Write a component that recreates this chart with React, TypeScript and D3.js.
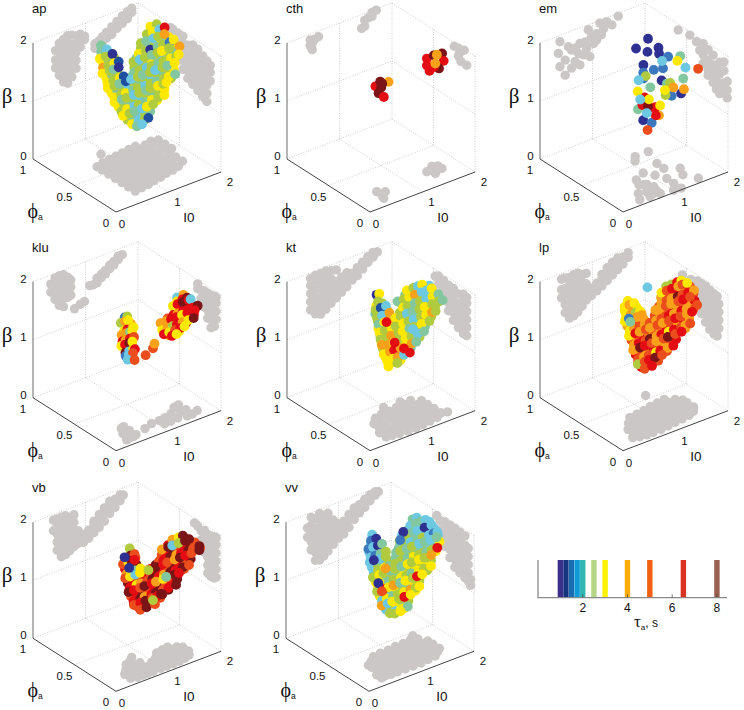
import * as d3 from 'd3';

// tau classes of the colour strip, and the colour of each class
const tauValues = [1, 1.25, 1.5, 1.75, 2, 2.5, 3, 4, 5, 6.5, 8];
const barColors = ['#3b2f8a', '#17357f', '#1a6db0', '#0f9ad8', '#31b6b4', '#b5d684', '#fff200', '#ffab0a', '#f15f12', '#dc3222', '#98604f'];
const dotColors = ['#2e3192', '#1f4f9f', '#3b78bd', '#6dc8e2', '#82c79e', '#b0cb3e', '#ffe800', '#f9a11b', '#ec4d1c', '#e30d13', '#7a1416'];
const tauTicks = [2, 4, 6, 8];
const betaTicks = [0, 1, 2];
const phiTicks = [0, 0.5, 1];
const i0Ticks = [0, 1, 2];

// shadows on the phi=1 wall: [I0, beta, beta, ...]
// shadows on the I0=2 wall: [phi, beta, beta, ...]
// shadows on the floor: [I0, phi, phi, ...]
// cloud rows: [phi, beta, I0, class, I0, class, ...], the *Back rows are drawn first

const apLeft = [[.43,1.42,1.56,1.72],[.5,1.27,1.41,1.55,1.69,1.82],[.58,1.13,1.27,1.41,1.55,1.69,1.86],[.66,1.08,1.22,1.36,1.5,1.64,1.78,1.9],[.74,1.16,1.3,1.44,1.58,1.72,1.88],[.82,1.28,1.42,1.56,1.7,1.84],[.9,1.62,1.74,1.84],[.98,1.72,1.78],[1.18,1.5,1.58],[1.25,1.5,1.6],[1.32,1.55,1.65],[1.4,1.6,1.7],[1.5,1.63,1.76],[1.6,1.7,1.82],[1.7,1.75,1.88],[1.8,1.8,1.92],[1.88,1.88,1.95]];
const apRight = [[.61,1.85,1.93],[.58,1.7,1.85,1.93],[.52,1.48,1.62,1.76,1.92],[.46,1.35,1.5,1.65,1.8,1.92],[.4,1.25,1.38,1.52,1.66,1.82],[.34,1.2,1.34,1.48,1.62,1.76,1.88],[.28,1.15,1.29,1.43,1.57,1.71,1.86],[.22,1.1,1.24,1.38,1.52,1.66,1.8],[.17,1.06,1.2,1.34,1.48,1.62,1.76],[.13,1.45,1.6,1.72]];
const apFloor = [[.62,.16,.24,.32,.4,.48,.56,.62],[.76,.17,.25,.33,.41,.49,.57,.64],[.9,.18,.26,.34,.42,.5,.58,.65,.75],[1.04,.2,.28,.36,.44,.52,.6,.66],[1.18,.21,.29,.37,.45,.53,.61,.67],[1.32,.23,.31,.39,.47,.55,.63,.68],[1.46,.24,.32,.4,.48,.56,.64,.69],[1.6,.26,.34,.42,.5,.58,.66],[1.74,.3,.38,.46,.54,.62,.68],[1.85,.5,.58,.66]];
const apBack = [
  [.655,1.85,.76,5,.88,4,1.7,5,1.82,6,1.93,5],
  [.625,1.75,.74,6,.85,4,.96,5,1.46,5,1.57,3,1.68,5,1.79,6,1.9,4,2,6],
  [.595,1.65,.71,5,.83,6,.94,5,1.33,4,1.45,5,1.56,3,1.67,5,1.78,4,1.89,5,2,6],
  [.565,1.55,.71,6,.82,4,.93,5,1.24,5,1.35,4,1.46,5,1.57,6,1.68,5,1.79,3,1.9,5,2,4],
  [.535,1.45,.7,5,.81,6,.92,4,1.03,5,1.14,4,1.25,5,1.36,3,1.47,5,1.58,4,1.69,6,1.8,5,1.91,4],
  [.505,1.35,.71,6,.82,4,.93,5,1.04,3,1.15,5,1.26,4,1.37,5,1.48,3,1.59,5,1.7,4,1.81,5,1.9,6],
  [.475,1.25,.73,5,.84,6,.95,4,1.06,5,1.17,3,1.28,5,1.39,4,1.5,5,1.61,6,1.72,4,1.8,5],
  [.445,1.15,.75,6,.86,5,.97,4,1.08,5,1.19,3,1.3,5,1.41,4,1.52,5,1.63,6],
  [.415,1.05,.78,5,.89,4,1,5,1.11,3,1.22,5,1.33,4,1.44,6],
  [.385,.95,.83,5,.94,4,1.05,3,1.16,5,1.26,4],
  [.36,.87,.92,5,1.02,3,1.1,4],
];
const apCloud = [
  [.7,1.95,.82,4,1.76,6,1.88,5],
  [.66,1.9,.76,4,.87,3,1.63,5,1.74,6,1.87,3,1.97,9],
  [.65,1.8,.72,6,.83,5,.96,0,1.5,5,1.6,4,1.74,3,1.83,5,1.95,7],
  [.6,1.7,.7,7,.8,5,.92,6,1,1,1.38,6,1.52,5,1.6,0,1.74,4,1.84,5,1.97,2],
  [.6,1.6,.69,6,.83,5,.9,4,1,0,1.28,5,1.4,3,1.5,5,1.63,4,1.74,5,1.82,6,1.96,5],
  [.54,1.5,.69,6,.8,5,.93,6,1,1,1.2,4,1.3,5,1.44,3,1.53,5,1.66,4,1.76,5,1.9,6,2,5],
  [.54,1.4,.7,6,.82,5,.92,4,1.04,1,1.14,3,1.27,5,1.36,4,1.5,5,1.6,3,1.74,5,1.83,4,1.97,6],
  [.47,1.3,.71,6,.84,5,.93,6,1.07,4,1.16,5,1.3,3,1.4,5,1.52,4,1.66,5,1.75,6,1.87,4],
  [.48,1.2,.73,6,.87,4,.96,5,1.1,3,1.2,5,1.33,4,1.42,5,1.56,6,1.66,5,1.72,6],
  [.41,1.1,.75,5,.86,6,1,3,1.08,5,1.22,4,1.33,6,1.45,5,1.57,6],
  [.42,1,.8,6,.92,5,1.02,4,1.16,3,1.25,6,1.37,5],
  [.35,.9,.86,6,.98,3,1.1,5,1.17,1],
  [.35,.83,.95,4,1.05,3],
  [.57,1.76,2,6],[.5,1.71,2,7],[.51,1.56,2,6],
];

const cthLeft = [[.44,1.9,1.8],[.48,1.72,1.82],[.52,1.88],[.6,1.9],[1.42,1.76],[1.48,1.78,1.88],[1.55,1.9],[1.62,1.9,1.97],[1.7,1.98]];
const cthRight = [[.25,1.94],[.2,1.95,1.82],[.17,1.92,1.75],[.13,1.98],[.1,1.75]];
const cthFloor = [[.42,.1],[.45,.14],[.46,.21],[.56,.17],[1.43,.22],[1.5,.16,.22],[1.59,.26,.2],[1.67,.19,.24]];
const cthCloud = [
  [.2,1.84,.42,9],[.2,1.83,.67,7],[.2,1.89,.51,10],[.2,1.84,.55,10],[.2,1.78,.53,10],[.2,1.7,.48,10],[.2,1.6,.58,9],
  [.2,1.98,1.4,9],[.2,1.99,1.53,10],[.2,1.97,1.69,10],[.2,1.83,1.72,9],[.2,1.73,1.63,10],[.2,1.86,1.4,9],[.2,1.75,1.45,9],[.2,1.79,1.53,9],[.2,1.98,1.59,7],[.2,1.84,1.56,7],
];

const emLeft = [[.35,1.7],[.38,1.89,1.46],[.48,1.28,1.54],[.54,1.75],[.6,1.67,1.36],[.67,1.68,1.45],[.73,1.57],[.76,1.73,1.36],[.83,1.51],[.86,1.72],[.89,1.6],[.92,1.91],[.95,1.44],[.98,1.77],[1.02,1.64],[1.08,1.68,1.79],[1.14,1.95],[1.17,1.74],[1.21,1.83],[1.27,1.93],[1.37,1.84],[1.49,1.95]];
const emRight = [[.6,1.9],[.46,1.94],[.38,1.9],[.34,1.79],[.3,1.94,1.75,1.6],[.24,1.89,1.7,1.55,1.45],[.18,1.85,1.68,1.5,1.38],[.14,1.66,1.46,1.3],[.1,1.8,1.6,1.4,1.26],[.05,1.85,1.7,1.49,1.35],[.01,1.27,1.4,1.55]];
const emFloor = [[.43,.07],[.53,.15],[.61,.06],[.66,.13],[.7,.25,.15,.08],[.75,.23],[.76,.32],[.79,.05],[.8,.22,.1],[.84,.16],[.97,.37],[1.01,.03],[1.07,.29],[1.1,.55],[1.14,.11,.02],[1.15,.2],[1.18,.6],[1.3,.33],[1.31,.42],[1.41,.17],[1.43,.6],[1.5,.26],[1.53,.06]];
const emCloud = [
  [.66,1.86,1.52,0],[.64,1.8,1.26,0],[.61,1.71,1.43,0],[.61,1.71,1.64,0],[.59,1.63,1.62,0],[.57,1.57,1.29,0],[.49,1.3,1.51,0],[.42,1.05,1.77,0],[.37,.91,.97,0],
  [.57,1.55,1.76,2],[.54,1.46,1.44,2],[.53,1.44,1.6,2],[.52,1.41,1.21,2],[.42,1.07,1.59,2],[.35,.84,1.1,2],[.54,1.48,1.24,2],
  [.55,1.51,1.96,4],[.47,1.22,1.89,4],[.48,1.27,1.28,4],[.42,1.06,.95,4],[.47,1.24,1.58,4],
  [.53,1.42,1.27,5],[.43,1.11,1.49,5],[.47,1.23,1.64,5],
  [.45,1.16,1.67,7],[.43,1.09,1.84,7],[.37,.89,1.27,7],
  [.45,1.18,1.12,9],[.43,1.09,1.05,9],[.4,1.01,1.25,9],[.37,.91,1.21,9],[.41,1.02,1.16,9],[.42,1.05,1.14,10],
  [.54,1.46,1.89,6],[.48,1.28,1.04,6],[.44,1.13,1.19,6],[.45,1.17,1.51,6],[.4,1.01,1.34,6],
  [.56,1.53,1.63,3],[.5,1.35,1.98,3],[.52,1.41,1.12,3],[.45,1.17,1.04,3],[.39,.98,1.07,3],
  [.33,.77,.99,8],[.36,1.45,2,8],
];

const kluLeft = [[.34,1.7,1.84],[.42,1.55,1.69,1.83,1.92],[.5,1.42,1.56,1.7,1.84,1.93],[.58,1.37,1.51,1.65,1.79,1.92],[.66,1.5,1.62,1.76,1.85],[.72,1.52,1.66,1.78],[.79,1.26],[.9,1.3],[.98,1.32],[1.08,1.56],[1.15,1.55],[1.22,1.56,1.64],[1.3,1.62,1.68],[1.38,1.66,1.72],[1.46,1.72,1.78],[1.54,1.76,1.82],[1.62,1.82,1.88],[1.7,1.88]];
const kluRight = [[.28,1.85,1.93],[.24,1.72,1.86],[.2,1.6,1.74,1.88],[.16,1.45,1.59,1.73,1.88],[.12,1.32,1.46,1.6,1.74,1.88],[.08,1.38,1.52,1.66,1.8,1.9],[.06,1.52,1.66,1.8,1.9]];
const kluFloor = [[.33,.08],[.4,.09,.17],[.48,.09,.17,.24],[.54,.1,.18,.25],[.76,.13],[.93,.16],[1.08,.1,.16],[1.2,.1,.17],[1.35,.11,.19],[1.5,.09,.17,.25],[1.6,.09,.17,.26],[1.72,.11]];
const kluBack = [
  [.2,1.8,.5,6,.6,7],[.2,1.7,.48,9,.6,6],[.2,1.6,.5,8,.6,9],[.2,1.5,.5,7,.62,9],[.2,1.4,.52,6,.62,10],[.2,1.3,.58,6],
  [.2,1.85,1.52,7,1.62,9],[.2,1.75,1.44,7,1.54,9,1.64,7,1.74,10],[.2,1.65,1.3,8,1.4,9,1.5,6,1.6,9,1.7,9,1.8,10],
  [.2,1.55,1.22,7,1.32,6,1.42,9,1.52,7,1.62,9,1.72,6,1.8,9],[.2,1.45,1.25,7,1.35,6,1.45,9,1.55,7,1.65,9],[.2,1.35,1.32,7,1.44,9,1.52,6],
];
const kluCloud = [
  [.2,1.95,.48,2,.53,5],
  [.22,1.85,.44,5,.52,7,.58,6],
  [.18,1.75,.44,6,.5,9,.6,7,.62,6],
  [.21,1.65,.44,7,.53,7,.6,4,.64,6],
  [.2,1.55,.44,9,.5,7,.58,9,.66,8],
  [.22,1.45,.45,6,.52,9,.6,10,.66,6],
  [.19,1.35,.48,10,.55,3,.62,6,.66,9],
  [.2,1.28,.5,2,.56,3,.64,8],
  [.2,1.2,.54,3],
  [.2,1.15,.67,8],[.2,1.16,.88,8],[.2,1.23,1.02,8],[.2,1.3,1.05,7],
  [.2,1.95,1.48,3,1.6,7],
  [.2,1.88,1.48,6,1.58,9,1.67,10],
  [.22,1.8,1.43,6,1.52,9,1.62,10,1.73,9,1.77,3],
  [.18,1.7,1.38,9,1.46,7,1.56,9,1.65,9,1.75,9,1.84,10],
  [.21,1.6,1.18,7,1.28,7,1.38,9,1.48,9,1.59,6,1.69,9,1.83,9],
  [.19,1.5,1.18,6,1.28,7,1.38,5,1.46,9,1.57,7,1.68,6,1.78,10],
  [.2,1.4,1.23,9,1.33,6,1.44,8,1.54,9,1.62,6],
  [.2,1.32,1.38,9,1.47,6],
];

const ktLeft = [[.45,1.36,1.5,1.64,1.78,1.9],[.54,1.26,1.4,1.54,1.68,1.82,1.92],[.64,1.22,1.36,1.5,1.64,1.78,1.92],[.74,1.27,1.41,1.55,1.69,1.83,1.93],[.84,1.34,1.48,1.62,1.76,1.9],[.94,1.4,1.54,1.68,1.88],[1.04,1.46,1.6,1.72],[1.14,1.52,1.66,1.76],[1.24,1.6,1.72],[1.34,1.64,1.78],[1.44,1.72,1.84],[1.54,1.8,1.9],[1.64,1.86,1.94],[1.72,1.92]];
const ktRight = [[.48,1.88],[.44,1.78,1.92],[.38,1.62,1.76,1.9],[.32,1.43,1.57,1.71,1.87],[.26,1.32,1.46,1.6,1.74,1.87],[.2,1.25,1.39,1.53,1.67,1.83],[.14,1.2,1.34,1.48,1.62,1.76,1.88],[.1,1.2,1.34,1.48,1.62,1.76,1.86]];
const ktFloor = [[.45,.09,.17],[.55,.08,.16,.24,.3],[.67,.07,.15,.23,.31,.36],[.82,.06,.14,.22,.3,.38],[.97,.06,.14,.22,.3,.38,.45],[1.12,.07,.15,.23,.31,.39],[1.27,.08,.16,.24,.32,.4,.44],[1.42,.09,.17,.25,.33,.41],[1.55,.13,.21,.29,.36],[1.65,.11]];
const ktBack = [
  [.45,1.8,.83,6,.95,5,1.38,4,1.5,5,1.62,6,1.74,5,1.84,3],
  [.43,1.7,.78,4,.9,5,1,6,1.28,5,1.4,6,1.52,3,1.64,5,1.76,6,1.88,5],
  [.4,1.6,.78,5,.9,4,1.02,5,1.2,5,1.32,4,1.44,5,1.56,3,1.68,5,1.8,4,1.92,5],
  [.38,1.5,.76,6,.88,5,1,4,1.12,5,1.24,6,1.36,5,1.48,4,1.6,5,1.72,6,1.84,5],
  [.35,1.4,.75,5,.87,4,.99,6,1.11,5,1.23,4,1.35,5,1.47,3,1.59,5,1.72,5],
  [.33,1.3,.74,6,.86,5,.98,6,1.1,4,1.22,5,1.34,6,1.46,5,1.57,4],
  [.3,1.2,.73,5,.85,6,.97,5,1.09,7,1.21,6,1.33,3,1.42,5],
  [.28,1.1,.74,6,.86,5,.98,4,1.1,6,1.22,4],
  [.25,1,.76,5,.88,7,.98,6],
];
const ktCloud = [
  [.49,1.93,.9,0,.95,6],
  [.46,1.85,.88,5,1.43,6,1.55,5,1.64,3,1.72,6],
  [.44,1.75,.8,5,.9,1,1,3,1.22,4,1.34,5,1.44,6,1.55,7,1.68,3,1.78,3,1.87,6],
  [.41,1.65,.78,5,.88,3,1.02,7,1.28,6,1.36,5,1.5,4,1.6,5,1.72,3,1.84,6,1.95,4],
  [.39,1.55,.78,4,.89,6,.97,7,1.1,6,1.2,5,1.32,3,1.42,4,1.56,5,1.66,6,1.8,5,1.92,5,2,4],
  [.36,1.45,.75,6,.85,5,.98,6,1.06,5,1.2,6,1.3,5,1.4,3,1.54,5,1.64,6,1.75,7,1.82,5],
  [.34,1.35,.74,5,.86,5,.94,7,1.08,5,1.16,6,1.29,4,1.38,5,1.52,6,1.67,5],
  [.31,1.25,.73,5,.84,7,.95,6,1.04,5,1.17,6,1.28,5,1.4,3,1.52,4],
  [.29,1.15,.72,6,.84,7,.92,9,1.04,7,1.14,6,1.25,7,1.34,4],
  [.26,1.05,.74,6,.85,6,.94,7,1.06,3,1.17,9],
  [.24,.98,.73,6,.9,5],
  [.39,1.54,.93,9],[.33,1.33,1.34,3],[.31,1.25,.96,9],[.28,1.13,1.09,9],[.32,1.28,.73,7],
];

const lpLeft = [[.41,1.58,1.72,1.9],[.48,1.3,1.44,1.58,1.72,1.9],[.56,1.18,1.32,1.46,1.6,1.74,1.88],[.64,1.19,1.33,1.47,1.61,1.75,1.9],[.72,1.23,1.37,1.51,1.65,1.79,1.9],[.8,1.3,1.44,1.58,1.72,1.85],[.88,1.38,1.52,1.66,1.84],[.98,1.42,1.55],[1.08,1.47,1.6],[1.18,1.52,1.65,1.72],[1.28,1.58,1.72,1.8],[1.38,1.64,1.78,1.86],[1.48,1.7,1.82,1.9],[1.58,1.76,1.88],[1.68,1.84,1.92]];
const lpRight = [[.55,1.84],[.45,1.85],[.42,1.7,1.85],[.37,1.52,1.66,1.8,1.9],[.32,1.38,1.52,1.66,1.8,1.9],[.27,1.28,1.42,1.56,1.7,1.84,1.9],[.22,1.2,1.34,1.48,1.62,1.76,1.88],[.17,1.17,1.31,1.45,1.59,1.73,1.86],[.13,1.17,1.31,1.45,1.59,1.73,1.85],[.11,1.32,1.46,1.6,1.74]];
const lpFloor = [[.36,.11],[.46,.09,.17,.23],[.58,.08,.16,.24,.3],[.7,.08,.16,.24,.32,.36],[.85,.08,.16,.24,.32,.37],[1,.09,.17,.25,.33,.38],[1.15,.1,.18,.26,.34,.4],[1.3,.11,.19,.27,.35,.41,.55],[1.45,.12,.2,.28,.36,.42],[1.58,.15,.23,.31,.37],[1.66,.2,.28,.33]];
const lpBack = [
  [.44,1.75,.73,6,.84,7,.95,6,1.42,7,1.53,8,1.64,7,1.75,9,1.86,7,1.97,8],
  [.41,1.65,.7,6,.81,6,.92,7,1,7,1.33,8,1.44,7,1.55,9,1.66,8,1.77,7,1.88,9,1.99,8],
  [.39,1.55,.7,7,.81,6,.92,8,1.02,7,1.22,8,1.33,7,1.44,8,1.55,9,1.66,7,1.77,8,1.88,7,1.98,9],
  [.36,1.45,.7,6,.81,8,.92,7,1.03,8,1.14,7,1.25,9,1.36,8,1.47,7,1.58,8,1.69,7,1.8,9,1.91,8],
  [.34,1.35,.7,8,.81,7,.92,9,1.03,7,1.14,8,1.25,7,1.36,9,1.47,8,1.58,7,1.69,9,1.8,7],
  [.31,1.25,.7,7,.81,9,.92,8,1.03,7,1.14,9,1.25,8,1.36,7,1.47,9,1.58,8,1.68,7],
  [.29,1.15,.7,9,.81,8,.92,7,1.03,9,1.14,8,1.25,7,1.36,8,1.47,9],
  [.26,1.05,.7,8,.81,9,.92,7,1.03,8,1.14,9,1.25,8],
  [.24,.97,.73,9,.84,8,.95,9,1.05,8],
];
const lpCloud = [
  [.48,1.85,.85,6,1.58,5,1.68,5,1.79,9,1.87,6],
  [.46,1.8,.76,6,.85,7,.94,6,1.46,6,1.56,8,1.66,9,1.78,7,1.86,8,1.95,6],
  [.41,1.7,.71,6,.8,7,.89,5,.97,6,1.38,7,1.48,8,1.57,7,1.69,10,1.78,8,1.89,9,2,7],
  [.42,1.6,.7,6,.8,4,.92,7,1.02,7,1.28,7,1.37,7,1.48,8,1.58,7,1.72,8,1.81,9,1.94,8],
  [.36,1.5,.7,6,.78,7,.88,8,.98,7,1.08,8,1.2,7,1.3,8,1.44,9,1.54,7,1.68,9,1.78,7,1.98,8],
  [.37,1.4,.7,6,.82,9,.9,7,1.02,8,1.1,7,1.24,8,1.34,7,1.46,8,1.58,9,1.68,8,1.8,7,1.9,9],
  [.31,1.3,.7,7,.79,9,.92,8,1,10,1.13,7,1.22,9,1.36,6,1.46,9,1.6,8,1.68,7,1.77,8],
  [.32,1.2,.7,7,.83,10,.92,9,1.05,8,1.14,7,1.28,8,1.36,10,1.5,8,1.62,9],
  [.26,1.1,.7,8,.81,7,.9,8,1.04,6,1.12,9,1.26,7,1.37,9],
  [.27,1,.71,5,.84,8,.92,9,1.04,10,1.17,8],
  [.22,.95,.76,8,.9,9],
  [.41,1.64,.76,2],[.4,1.59,.77,4],[.49,1.94,1.24,3],
];

const vbLeft = [[.39,1.72,1.9],[.46,1.36,1.5,1.64,1.78,1.9],[.54,1.22,1.36,1.5,1.64,1.78,1.9],[.62,1.23,1.37,1.51,1.65,1.79,1.9],[.7,1.27,1.41,1.55,1.69,1.83],[.78,1.31,1.45,1.59,1.73,1.86],[.86,1.34,1.48,1.56],[.96,1.32,1.46],[1.06,1.36,1.5],[1.16,1.42,1.56,1.62],[1.26,1.48,1.62,1.7],[1.36,1.55,1.69,1.78],[1.46,1.65,1.79,1.86],[1.56,1.72,1.86],[1.66,1.8,1.9],[1.72,1.88]];
const vbRight = [[.32,1.92],[.28,1.9],[.24,1.7,1.86],[.2,1.52,1.66,1.8,1.9],[.16,1.2,1.34,1.48,1.62,1.76,1.87],[.12,1.18,1.32,1.46,1.6,1.74,1.88],[.08,1.19,1.33,1.47,1.61,1.75,1.9],[.06,1.22,1.36,1.5,1.64,1.78,1.9]];
const vbFloor = [[.42,.09,.16],[.52,.07,.15,.21],[.62,.07,.15,.23,.27],[.72,.07,.15,.23,.29],[.82,.07,.15,.23,.33],[.96,.07,.15,.18],[1.08,.07,.15,.21],[1.2,.07,.15,.23,.27],[1.32,.07,.15,.23,.28],[1.44,.08,.16,.24,.29],[1.55,.1,.18,.25],[1.62,.15,.22]];
const vbBack = [
  [.26,1.8,.59,8,.7,9,.78,8,1.4,9,1.51,10,1.62,8,1.73,9],
  [.24,1.7,.55,9,.66,8,.77,10,1.25,8,1.36,9,1.47,10,1.58,8,1.69,9,1.8,10,1.88,8],
  [.22,1.6,.54,8,.65,10,.76,8,.84,9,1.1,10,1.21,9,1.32,8,1.43,10,1.54,9,1.65,8,1.76,10,1.87,9,1.95,8],
  [.2,1.5,.54,10,.65,9,.76,8,.87,9,.98,8,1.09,10,1.2,9,1.31,8,1.42,10,1.53,9,1.64,8,1.74,10],
  [.18,1.4,.54,9,.65,8,.76,10,.87,9,.98,8,1.09,10,1.2,9,1.31,8,1.42,9,1.53,10,1.58,8],
  [.16,1.3,.54,8,.65,9,.76,10,.87,8,.98,9,1.09,10,1.2,8,1.31,9,1.42,10],
  [.14,1.2,.56,10,.67,8,.78,9,.89,10,1,8,1.11,9,1.22,10],
  [.13,1.13,.62,9,.73,8,.84,10,.95,9,1.05,8],
];
const vbCloud = [
  [.29,1.95,.72,5],
  [.27,1.85,.6,6,.7,10,.78,8,1.5,7,1.62,6,1.7,10],
  [.27,1.75,.56,8,.66,6,.72,10,.78,9,1.3,7,1.42,10,1.5,3,1.62,5,1.74,10,1.82,10],
  [.21,1.65,.54,7,.62,6,.7,4,.8,6,1.15,8,1.24,9,1.37,10,1.48,7,1.57,9,1.71,10,1.8,8,1.92,10],
  [.23,1.55,.54,8,.63,6,.73,3,.82,6,1.02,9,1.12,10,1.26,9,1.34,8,1.48,7,1.58,10,1.68,9,1.8,8,1.95,10],
  [.17,1.45,.54,9,.66,6,.74,7,.87,8,.96,10,1.08,9,1.18,7,1.3,10,1.4,9,1.54,10,1.66,8],
  [.19,1.35,.54,10,.64,9,.76,8,.84,10,.98,9,1.06,7,1.2,6,1.28,8,1.42,10,1.5,9],
  [.13,1.25,.54,9,.67,10,.75,7,.88,9,.96,10,1.1,8,1.2,9,1.35,10],
  [.15,1.15,.58,8,.7,9,.8,10,.93,8,1.02,9,1.12,10],
  [.1,1.1,.62,8,.74,10,.9,8],
  [.27,1.86,.59,0],[.24,1.69,.63,0],[.18,1.38,1.24,4],[.13,1.14,.91,5],[.14,1.18,1.08,10],[.21,1.57,.95,5],
];

const vvLeft = [[.41,1.6,1.76],[.48,1.36,1.5,1.64,1.78,1.92],[.56,1.15,1.29,1.43,1.57,1.71,1.87],[.64,1.13,1.27,1.41,1.55,1.69,1.83,1.93],[.72,1.17,1.31,1.45,1.59,1.73,1.87],[.8,1.23,1.37,1.51,1.65,1.8,1.88],[.9,1.31,1.45,1.59,1.73],[1,1.38,1.52,1.63],[1.1,1.42,1.56,1.64],[1.2,1.5,1.64,1.72],[1.3,1.6,1.74,1.8],[1.4,1.68,1.82],[1.5,1.74,1.88],[1.6,1.82,1.92],[1.7,1.88,1.94],[1.76,1.92]];
const vvRight = [[.45,1.93],[.41,1.72,1.88],[.35,1.49,1.63,1.77,1.91],[.29,1.35,1.49,1.63,1.77,1.91],[.23,1.24,1.38,1.52,1.66,1.8,1.91],[.17,1.2,1.34,1.48,1.62,1.76,1.9],[.11,1.17,1.31,1.45,1.59,1.73,1.89],[.07,1.15,1.29,1.43,1.57,1.71],[.04,1.1,1.2]];
const vvFloor = [[.4,.1,.16],[.48,.11,.19,.27,.31],[.58,.1,.18,.26,.34],[.7,.1,.18,.26,.34,.39],[.85,.1,.18,.26,.34,.4],[1,.1,.18,.26,.34,.4],[1.15,.1,.18,.26,.34,.41],[1.3,.11,.19,.27,.35,.41],[1.45,.12,.2,.28,.36,.42],[1.56,.16,.24,.32,.4,.46],[1.64,.19,.27,.33]];
const vvBack = [
  [.46,1.85,.76,3,.87,4,1.45,4,1.56,5,1.67,3,1.78,4,1.88,3],
  [.44,1.75,.7,3,.81,2,.92,4,1.28,5,1.39,3,1.5,4,1.61,5,1.72,3,1.83,4,1.93,3],
  [.41,1.65,.68,2,.79,3,.9,5,1.2,4,1.31,5,1.42,3,1.53,4,1.64,5,1.75,3,1.86,4,1.96,3],
  [.39,1.55,.67,3,.78,5,.89,4,.98,5,1.12,4,1.23,5,1.34,4,1.45,5,1.56,4,1.67,5,1.78,3,1.89,4,1.96,6],
  [.36,1.45,.66,5,.77,4,.88,5,.99,4,1.1,5,1.21,4,1.32,5,1.43,4,1.54,6,1.65,5,1.76,6,1.84,6],
  [.34,1.35,.66,6,.77,5,.88,4,.99,5,1.1,4,1.21,6,1.32,5,1.43,6,1.54,5,1.65,6,1.72,5],
  [.31,1.25,.66,5,.77,6,.88,5,.99,4,1.1,5,1.21,6,1.32,4,1.43,5,1.54,6,1.6,5],
  [.29,1.15,.66,6,.77,5,.88,4,.99,6,1.1,5,1.21,4,1.32,6,1.42,5],
  [.26,1.05,.67,5,.78,6,.89,5,1,4,1.11,6,1.22,5,1.3,6],
  [.24,.95,.7,3,.81,5,.92,6,1.03,4,1.13,5],
  [.22,.88,.8,4,.91,5,1.02,6],
];
const vvCloud = [
  [.5,1.95,.85,3,1.62,4,1.7,3],
  [.47,1.9,.78,2,.88,0,1.53,3,1.63,4,1.73,4,1.82,3],
  [.45,1.8,.7,2,.79,3,.88,0,.96,4,1.33,3,1.42,5,1.55,4,1.63,3,1.77,0,1.9,3],
  [.41,1.7,.68,3,.77,2,.87,4,.97,5,1.23,4,1.34,5,1.44,3,1.57,4,1.67,5,1.79,3,1.88,2,1.95,3],
  [.42,1.6,.68,3,.8,4,.88,3,.98,5,1.18,4,1.26,5,1.38,4,1.48,5,1.62,3,1.72,4,1.83,3,1.95,4],
  [.36,1.5,.66,3,.74,5,.87,6,.95,4,1.07,5,1.18,5,1.3,4,1.42,6,1.52,5,1.66,4,1.76,5,1.87,9],
  [.37,1.4,.66,5,.78,6,.86,5,.99,4,1.08,5,1.2,4,1.32,6,1.4,5,1.54,6,1.64,5,1.77,7],
  [.31,1.3,.66,6,.74,6,.87,4,.96,5,1.1,6,1.2,5,1.3,4,1.44,6,1.54,5,1.67,6],
  [.32,1.2,.66,5,.78,9,.88,6,.97,7,1.1,4,1.2,6,1.34,5,1.42,9,1.52,6],
  [.26,1.1,.66,3,.75,6,.87,4,.96,5,1.08,6,1.2,7,1.3,5,1.37,6],
  [.27,1,.67,7,.78,3,.87,6,1,5,1.1,9,1.22,6],
  [.21,.9,.73,5,.85,3,.94,6,1.07,4],
  [.22,.85,.84,5,.95,6],
  [.41,1.63,.74,0],[.37,1.47,.9,7],[.33,1.32,.7,0],[.3,1.2,.72,8],[.46,1.85,1.38,0],[.44,1.76,1.29,2],
];

const panels = [
  { name: 'ap', x: 33, y: 159, left: apLeft, right: apRight, floor: apFloor, cloud: [...apBack, ...apCloud] },
  { name: 'cth', x: 287, y: 159, left: cthLeft, right: cthRight, floor: cthFloor, cloud: cthCloud },
  { name: 'em', x: 540, y: 159, left: emLeft, right: emRight, floor: emFloor, cloud: emCloud },
  { name: 'klu', x: 33, y: 397.7, left: kluLeft, right: kluRight, floor: kluFloor, cloud: [...kluBack, ...kluCloud] },
  { name: 'kt', x: 287, y: 397.7, left: ktLeft, right: ktRight, floor: ktFloor, cloud: [...ktBack, ...ktCloud] },
  { name: 'lp', x: 540, y: 397.7, left: lpLeft, right: lpRight, floor: lpFloor, cloud: [...lpBack, ...lpCloud] },
  { name: 'vb', x: 33, y: 638.3, left: vbLeft, right: vbRight, floor: vbFloor, cloud: [...vbBack, ...vbCloud] },
  { name: 'vv', x: 286, y: 638.3, left: vvLeft, right: vvRight, floor: vvFloor, cloud: [...vvBack, ...vvCloud] },
];

// oblique view of the MATLAB box, measured from the corner I0=0, phi=1, beta=0
const xI = d3.scaleLinear().domain([0, 2]).range([0, 105]);
const yI = d3.scaleLinear().domain([0, 2]).range([0, -40]);
const xPhi = d3.scaleLinear().domain([1, 0]).range([0, 83]);
const yPhi = d3.scaleLinear().domain([1, 0]).range([0, 53]);
const yBeta = d3.scaleLinear().domain([0, 2]).range([0, -116]);
const project = (i: number, phi: number, b: number): [number, number] => [xI(i) + xPhi(phi), yI(i) + yPhi(phi) + yBeta(b)];

const columns = (rows: number[][]) => rows.flatMap(([c, ...vals]) => vals.map(v => [c, v]));
const cloudDots = (rows: number[][]) =>
  rows.flatMap(([phi, b, ...rest]) =>
    d3.range(0, rest.length, 2).map(k => ({ i: rest[k], phi, b, c: rest[k + 1] })));

const SANS = "'Liberation Sans', Arial, sans-serif";
const SERIF = "'Liberation Serif', serif";
const GREY = '#cbc7c6';
const GREY_R = 4.7;

const Grid = () => {
  const lines: [number, number, number][][] = [
    [[0, 1, 2], [2, 1, 2]], [[2, 1, 2], [2, 0, 2]], [[2, 1, 0], [2, 1, 2]], [[2, 0, 0], [2, 0, 2]],
    [[0, 1, 0], [2, 1, 0]], [[2, 1, 0], [2, 0, 0]],
    [[0, 1, 1], [2, 1, 1]], [[2, 1, 1], [2, 0, 1]], [[1, 1, 0], [1, 1, 2]], [[2, 0.5, 0], [2, 0.5, 2]],
    [[1, 1, 0], [1, 0, 0]], [[0, 0.5, 0], [2, 0.5, 0]],
  ];
  const line = d3.line();
  return (
    <g fill="none" stroke="#b9b9b9" strokeWidth={0.7} strokeDasharray="1 1.5">
      {lines.map((l, k) => <path key={k} d={line(l.map(p => project(p[0], p[1], p[2])))!} />)}
    </g>
  );
};

const Panel = ({ p }: { p: typeof panels[number] }) => {
  const line = d3.line();
  const text = { fontFamily: SANS, fontSize: 11.5, fill: '#111', textAnchor: 'middle' as const };
  return (
    <g transform={`translate(${p.x},${p.y})`}>
      <Grid />
      <g fill={GREY}>
        {columns(p.left).map(([i, b], k) => {
          const [x, y] = project(i, 1, b);
          return <circle key={'l' + k} cx={x} cy={y} r={GREY_R} />;
        })}
        {columns(p.right).map(([phi, b], k) => {
          const [x, y] = project(2, phi, b);
          return <circle key={'r' + k} cx={x} cy={y} r={GREY_R} />;
        })}
        {columns(p.floor).map(([i, phi], k) => {
          const [x, y] = project(i, phi, 0);
          return <circle key={'f' + k} cx={x} cy={y} r={GREY_R} />;
        })}
      </g>
      <path d={line([project(0, 1, 0), project(0, 1, 2)])!} stroke="#777" strokeWidth={1.1} fill="none" />
      <path d={line([project(0, 1, 0), project(0, 0, 0), project(2, 0, 0)])!} stroke="#444" strokeWidth={1} fill="none" />
      {cloudDots(p.cloud).map((d, k) => {
        const [x, y] = project(d.i, d.phi, d.b);
        return <circle key={k} cx={x} cy={y} r={4.9} fill={dotColors[d.c]} />;
      })}
      {betaTicks.map(b => {
        const [x, y] = project(0, 1, b);
        return <text key={b} {...text} x={x - 9.5} y={y + 1}>{b}</text>;
      })}
      {phiTicks.map(v => {
        const [x, y] = project(0, v, 0);
        return <text key={v} {...text} x={x - 10} y={y + 15}>{v}</text>;
      })}
      {i0Ticks.map(v => {
        const [x, y] = project(v, 0, 0);
        return <text key={v} {...text} x={x + (v ? 9 : 6)} y={y + (v ? 14 : 16)}>{v}</text>;
      })}
      <text x={-1} y={-146} fontFamily={SANS} fontSize={13} fill="#111">{p.name}</text>
      <text x={-26} y={-56} fontFamily={SERIF} fontSize={21} fill="#111" textAnchor="middle">β</text>
      <text x={2} y={59} fontFamily={SERIF} fontSize={20} fill="#111" textAnchor="middle">
        ϕ<tspan fontFamily={SANS} fontSize={8.5} dy={2}>a</tspan>
      </text>
      <text x={156} y={63} fontFamily={SANS} fontSize={13.5} fill="#111" textAnchor="middle">I0</text>
    </g>
  );
};

const TauStrip = () => {
  const x = d3.scaleLinear().domain([0, 8.45]).range([538, 727]);
  const y = d3.scaleLinear().domain([0, 1]).range([597.7, 560]);
  return (
    <g>
      {tauValues.map((t, k) => (
        <rect key={t} x={x(t) - 2.7} width={5.4} y={y(1)} height={y(0) - y(1)} fill={barColors[k]} />
      ))}
      <path d={`M${x(0)},${y(1)}V${y(0)}H${x.range()[1]}`} fill="none" stroke="#8a8a8a" strokeWidth={1.3} />
      {tauTicks.map(t => (
        <g key={t}>
          <path d={`M${x(t)},${y(0)}v-3.5`} stroke="#444" strokeWidth={0.7} />
          <text x={x(t)} y={612} fontFamily={SANS} fontSize={12} fill="#111" textAnchor="middle">{t}</text>
        </g>
      ))}
      <text x={646} y={627} fontFamily={SANS} fontSize={12} fill="#111" textAnchor="middle">
        <tspan fontFamily={SERIF} fontSize={17}>τ</tspan>
        <tspan fontSize={8} dy={3}>a</tspan>
        <tspan dy={-3}>, s</tspan>
      </text>
    </g>
  );
};

export default function App() {
  return (
    <svg width={744} height={710} viewBox="0 0 744 710" style={{ position: 'absolute', left: 0, top: 0, display: 'block', background: '#fff' }}>
      {panels.map(p => <Panel key={p.name} p={p} />)}
      <TauStrip />
    </svg>
  );
}
